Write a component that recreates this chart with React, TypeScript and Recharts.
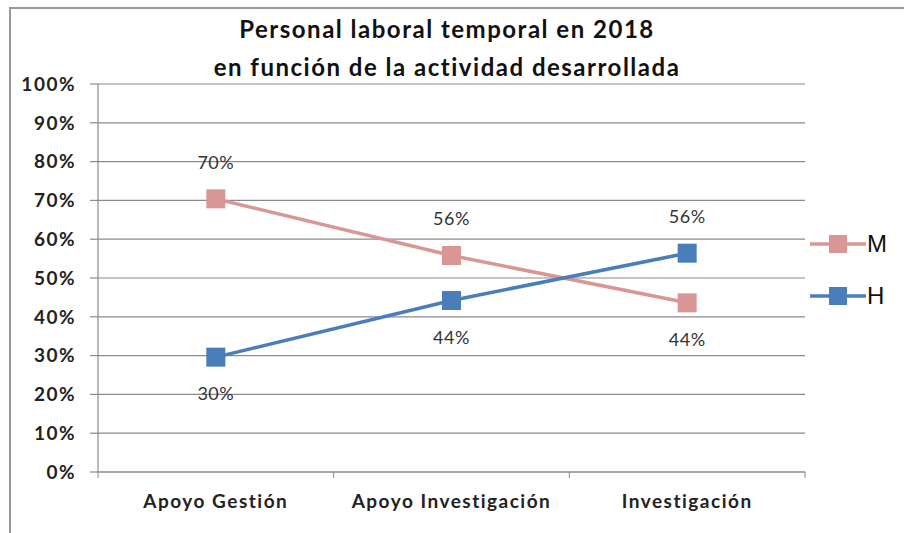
import { LineChart, Line, XAxis, YAxis, CartesianGrid, LabelList } from 'recharts'

const categories = ['Apoyo Gestión', 'Apoyo Investigación', 'Investigación']
const mujeres = [70.4, 55.8, 43.6]
const hombres = [29.6, 44.2, 56.4]
const yTicks = [0, 10, 20, 30, 40, 50, 60, 70, 80, 90, 100]

const PINK = '#D99694'
const BLUE = '#4A7EBB'
const GRID = '#8A8A8A'
const FONT = 'Lato, "Open Sans", sans-serif'

const data = categories.map((c, i) => ({ cat: c, M: mujeres[i], H: hombres[i] }))

const PLOT_W = 707
const BAND = PLOT_W / categories.length

const XTick = ({ x, y, payload, index }: any) => (
  <g>
    {index === 0 && <line x1={x - BAND / 2} x2={x - BAND / 2} y1={y - 8} y2={y - 2} stroke={GRID} />}
    <line x1={x + BAND / 2} x2={x + BAND / 2} y1={y - 8} y2={y - 2} stroke={GRID} />
    <text
      x={x}
      y={y + 28}
      textAnchor="middle"
      fontFamily={FONT}
      fontWeight={700}
      fontSize={19}
      letterSpacing={1.5}
      fill="#222"
    >
      {payload.value}
    </text>
  </g>
)

const makeLabel = (own: number[], other: number[]) => (props: any) => {
  const { x, y, index } = props
  const above = own[index] >= other[index]
  return (
    <text
      x={x}
      y={above ? y - 30 : y + 43}
      textAnchor="middle"
      fontFamily={FONT}
      fontSize={18}
      letterSpacing={0.5}
      fill="#333"
    >
      {Math.round(own[index])}%
    </text>
  )
}

const Square = (color: string) => (props: any) => {
  const { cx, cy } = props
  return <rect x={cx - 9.5} y={cy - 9.5} width={19} height={19} fill={color} />
}

const series = [
  { name: 'M', color: PINK },
  { name: 'H', color: BLUE },
]

const ChartLegend = () => (
  <div
    style={{
      position: 'absolute',
      left: 810,
      top: 218,
      fontFamily: 'Arial, "Liberation Sans", sans-serif',
      fontSize: 24,
      color: '#111',
    }}
  >
    {series.map((s) => (
      <div key={s.name} style={{ display: 'flex', alignItems: 'center', height: 52 }}>
        <svg width={56} height={20}>
          <line x1={0} x2={56} y1={10} y2={10} stroke={s.color} strokeWidth={3.5} />
          <rect x={19} y={1} width={18} height={18} fill={s.color} />
        </svg>
        <span style={{ marginLeft: 1 }}>{s.name}</span>
      </div>
    ))}
  </div>
)

export default function App() {
  return (
    <div style={{ position: 'fixed', left: 0, top: 0, width: 904, height: 533, background: '#fff' }}>
      <div
        style={{
          position: 'absolute',
          left: 9,
          top: 7,
          right: 0,
          bottom: 0,
          borderLeft: '2px solid #999',
          borderTop: '2px solid #999',
        }}
      />
      <div
        style={{
          position: 'absolute',
          left: 0,
          top: 10,
          width: 894,
          textAlign: 'center',
          fontFamily: FONT,
          fontWeight: 700,
          fontSize: 24,
          letterSpacing: 1.5,
          lineHeight: '38px',
          color: '#111',
        }}
      >
        Personal laboral temporal en 2018
        <br />
        en función de la actividad desarrollada
      </div>
      <div style={{ position: 'absolute', left: 0, top: 0 }}>
        <LineChart width={904} height={533} data={data} margin={{ top: 84, right: 99, bottom: 21, left: 8 }}>
          <CartesianGrid vertical={false} stroke={GRID} strokeWidth={1.2} />
          <XAxis
            dataKey="cat"
            height={40}
            stroke={GRID}
            strokeWidth={1.2}
            tickLine={false}
            tick={<XTick />}
            interval={0}
            padding={{ left: BAND / 2, right: BAND / 2 }}
          />
          <YAxis
            width={90}
            domain={[0, 100]}
            ticks={yTicks}
            tickFormatter={(v) => `${v}%`}
            stroke={GRID}
            strokeWidth={1.2}
            tickSize={8}
            tickMargin={14}
            tick={{ fontFamily: FONT, fontWeight: 700, fontSize: 19, letterSpacing: 1.5, fill: '#222' }}
          />
          <Line
            dataKey="M"
            stroke={PINK}
            strokeWidth={3.5}
            dot={Square(PINK)}
            activeDot={false}
            isAnimationActive={false}
          >
            <LabelList dataKey="M" content={makeLabel(mujeres, hombres)} />
          </Line>
          <Line
            dataKey="H"
            stroke={BLUE}
            strokeWidth={3.5}
            dot={Square(BLUE)}
            activeDot={false}
            isAnimationActive={false}
          >
            <LabelList dataKey="H" content={makeLabel(hombres, mujeres)} />
          </Line>
        </LineChart>
      </div>
      <ChartLegend />
    </div>
  )
}
